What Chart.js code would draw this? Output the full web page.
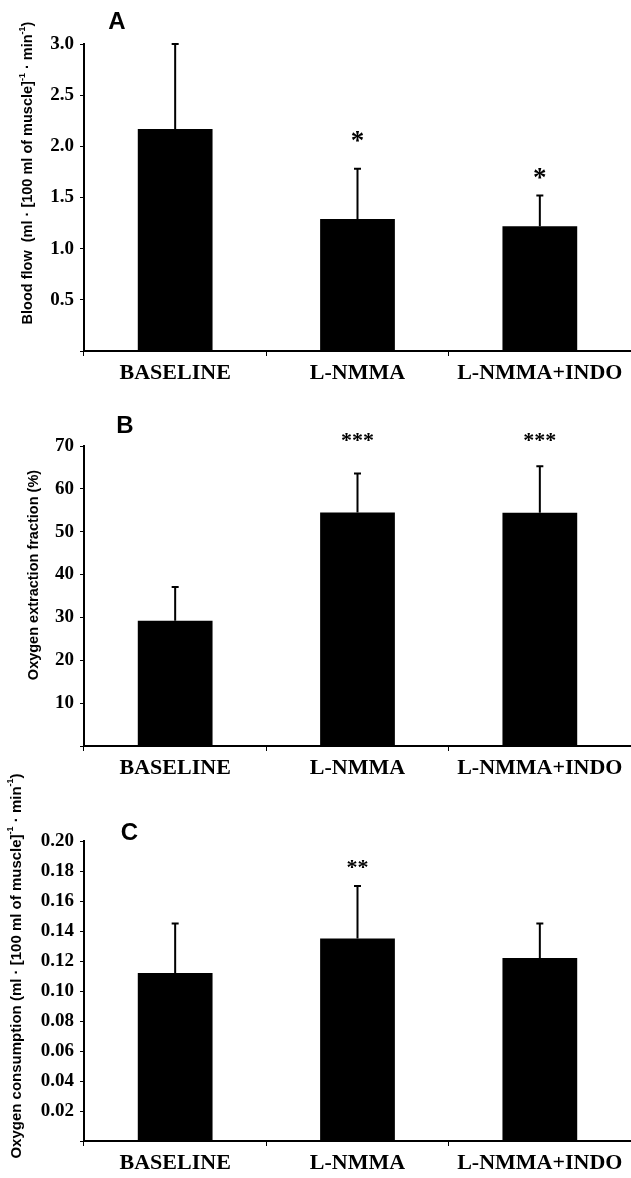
<!DOCTYPE html>
<html>
<head>
<meta charset="utf-8">
<script src="https://cdn.jsdelivr.net/npm/chart.js@4"></script>
<style>
  html, body { margin: 0; padding: 0; background: #fff; }
  body { position: relative; width: 631px; height: 1178px; overflow: hidden; }
  canvas { position: absolute; left: 0; }
</style>
</head>
<body>
<canvas id="grafico-a" width="631" height="395" style="top:0px"></canvas>
<canvas id="grafico-b" width="631" height="405" style="top:385px"></canvas>
<canvas id="grafico-c" width="631" height="443" style="top:735px"></canvas>
<script>
// Categorias e valores (média e desvio)
const categorias = ['BASELINE', 'L-NMMA', 'L-NMMA+INDO'];

const fluxoSangue = [2.17, 1.29, 1.22];
const fluxoSangueDP = [0.83, 0.49, 0.30];
const fluxoEstrelas = ['', '*', '*'];
const fluxoEstrelasNivel = [null, 2.09, 1.73];

const extracao = [29.2, 54.5, 54.4];
const extracaoDP = [7.9, 9.1, 10.9];
const extracaoEstrelas = ['', '***', '***'];
const extracaoEstrelasNivel = [null, 72.1, 72.1];

const consumo = [0.112, 0.135, 0.122];
const consumoDP = [0.033, 0.035, 0.023];
const consumoEstrelas = ['', '**', ''];
const consumoEstrelasNivel = [null, 0.185, null];

const SERIF = '"Liberation Serif", "Times New Roman", serif';
const SANS = '"Liberation Sans", Arial, sans-serif';

// Desenha o título do eixo y girado, com expoentes
function tituloGirado(ctx, partes, cx, cy, tam) {
    ctx.save();
    ctx.translate(cx, cy);
    ctx.rotate(-Math.PI / 2);
    ctx.fillStyle = '#000';
    ctx.textBaseline = 'middle';
    ctx.textAlign = 'left';
    const fonte = sup => `bold ${sup ? Math.round(tam * 0.62) : tam}px ${SANS}`;
    let total = 0;
    partes.forEach(p => { ctx.font = fonte(p[1]); total += ctx.measureText(p[0]).width; });
    let x = -total / 2;
    partes.forEach(p => {
        ctx.font = fonte(p[1]);
        ctx.fillText(p[0], x, p[1] ? -tam * 0.38 : 0);
        x += ctx.measureText(p[0]).width;
    });
    ctx.restore();
}

// Plugin: barras de erro, asteriscos, letra do painel e título do eixo
const decoracao = {
    id: 'decoracao',
    afterDatasetsDraw(chart, args, op) {
        const ctx = chart.ctx;
        const y = chart.scales.y;
        const valores = chart.data.datasets[0].data;
        const meta = chart.getDatasetMeta(0);
        ctx.save();
        ctx.strokeStyle = '#000';
        ctx.fillStyle = '#000';
        ctx.lineWidth = 2;
        meta.data.forEach((barra, i) => {
            const topo = y.getPixelForValue(valores[i] + op.desvio[i]);
            ctx.beginPath();
            ctx.moveTo(barra.x, barra.y);
            ctx.lineTo(barra.x, topo);
            ctx.moveTo(barra.x - 3.5, topo);
            ctx.lineTo(barra.x + 3.5, topo);
            ctx.stroke();
            if (op.estrelas[i]) {
                ctx.font = `bold ${op.estrelaTam}px ${SERIF}`;
                ctx.textAlign = 'center';
                ctx.textBaseline = 'middle';
                ctx.fillText(op.estrelas[i], barra.x, y.getPixelForValue(op.nivel[i]) + op.estrelaTam * 0.2);
            }
        });
        ctx.font = `bold 24px ${SANS}`;
        ctx.textAlign = 'center';
        ctx.textBaseline = 'middle';
        ctx.fillText(op.letra, op.letraX, op.letraY);
        ctx.restore();
        tituloGirado(ctx, op.titulo, op.tituloX, op.tituloY, op.tituloTam);
    }
};

function criarGrafico(id, dados, cfg) {
    return new Chart(document.getElementById(id).getContext('2d'), {
        type: 'bar',
        data: {
            labels: categorias,
            datasets: [{
                data: dados,
                backgroundColor: '#000',
                borderWidth: 0,
                barPercentage: 0.41,
                categoryPercentage: 1
            }]
        },
        options: {
            responsive: false,
            animation: false,
            layout: { padding: { top: cfg.topo, left: 0, right: 0, bottom: 0 } },
            plugins: {
                legend: { display: false },
                tooltip: { enabled: false },
                decoracao: cfg.decoracao
            },
            scales: {
                x: {
                    grid: { drawOnChartArea: false, tickLength: 5, color: '#000', lineWidth: 1 },
                    border: { color: '#000', width: 2 },
                    ticks: {
                        color: '#000', padding: 4, maxRotation: 0, autoSkip: false,
                        font: { family: SERIF, size: 22, weight: 'bold' }
                    },
                    afterFit: s => { s.height = cfg.alturaX; }
                },
                y: {
                    min: 0,
                    max: cfg.max,
                    grid: { drawOnChartArea: false, tickLength: 4, color: '#000', lineWidth: 1 },
                    border: { color: '#000', width: 2 },
                    ticks: {
                        stepSize: cfg.passo,
                        color: '#000',
                        padding: 6,
                        font: { family: SERIF, size: 19, weight: 'bold' },
                        callback: v => (v === 0 ? '' : Number(v).toFixed(cfg.casas))
                    },
                    afterFit: s => { s.width = 84; }
                }
            }
        },
        plugins: [decoracao]
    });
}

// Painel A - fluxo sanguíneo
criarGrafico('grafico-a', fluxoSangue, {
    topo: 44, alturaX: 44, max: 3, passo: 0.5, casas: 1,
    decoracao: {
        desvio: fluxoSangueDP, estrelas: fluxoEstrelas, nivel: fluxoEstrelasNivel, estrelaTam: 27,
        letra: 'A', letraX: 117, letraY: 22,
        titulo: [['Blood flow  (ml · [100 ml of muscle]', false], ['-1', true], [' · min', false], ['-1', true], [')', false]],
        tituloX: 28, tituloY: 173, tituloTam: 14.5
    }
});

// Painel B - fração de extração de oxigênio
criarGrafico('grafico-b', extracao, {
    topo: 61, alturaX: 44, max: 70, passo: 10, casas: 0,
    decoracao: {
        desvio: extracaoDP, estrelas: extracaoEstrelas, nivel: extracaoEstrelasNivel, estrelaTam: 22,
        letra: 'B', letraX: 125, letraY: 41,
        titulo: [['Oxygen extraction fraction (%)', false]],
        tituloX: 34, tituloY: 190, tituloTam: 14.5
    }
});

// Painel C - consumo de oxigênio
criarGrafico('grafico-c', consumo, {
    topo: 106, alturaX: 37, max: 0.2, passo: 0.02, casas: 2,
    decoracao: {
        desvio: consumoDP, estrelas: consumoEstrelas, nivel: consumoEstrelasNivel, estrelaTam: 22,
        letra: 'C', letraX: 129.5, letraY: 98,
        titulo: [['Oxygen consumption (ml · [100 ml of muscle]', false], ['-1', true], [' · min', false], ['-1', true], [')', false]],
        tituloX: 16.5, tituloY: 231, tituloTam: 15
    }
});
</script>
</body>
</html>
